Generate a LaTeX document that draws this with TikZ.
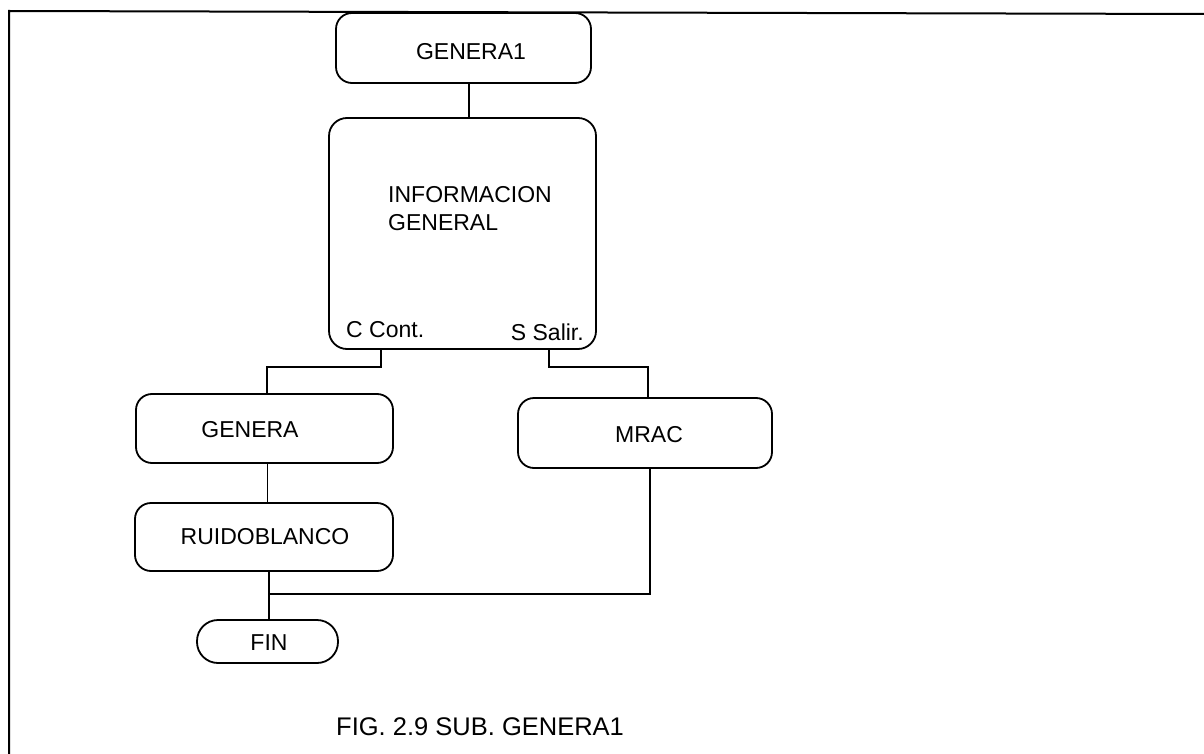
\documentclass[tikz,border=0pt]{standalone}
\usepackage{fontspec}
\setmainfont{Liberation Sans}
\begin{document}
\begin{tikzpicture}[x=1pt,y=-1pt,
  blockbox/.style={draw, line width=1.8pt, rounded corners=16pt, inner sep=0pt},
  lbl/.style={inner sep=0pt, font=\fontsize{23}{28}\selectfont},
  caption/.style={inner sep=0pt, font=\fontsize{25.5}{30}\selectfont},
  wire/.style={line width=1.6pt},
  thinwire/.style={line width=1pt},
  frameline/.style={line width=2pt}]
\useasboundingbox (0,0) rectangle (1204,754);

% page frame (left and top edges)
\coordinate (fBL) at (9,754);
\coordinate (fTL) at (9,11);
\coordinate (fTR) at (1204,14);
\draw[frameline] (fBL) -- (fTL) -- (fTR);

% boxes
\node[blockbox, minimum width=255pt, minimum height=70pt] (g1) at (463.5,48) {};
\node[blockbox, rounded corners=18pt, minimum width=267pt, minimum height=231pt] (info) at (462.5,233.5) {};
\node[blockbox, minimum width=257pt, minimum height=69pt] (genera) at (264.5,428.5) {};
\node[blockbox, minimum width=254pt, minimum height=70pt] (mrac) at (645,433) {};
\node[blockbox, minimum width=258pt, minimum height=68pt] (ruido) at (264,537) {};
\node[blockbox, rounded corners=21pt, minimum width=141pt, minimum height=43pt] (fin) at (267.5,641.5) {};

% labels
\node[lbl] (g1t) at (471,52) {GENERA1};
\node[lbl, anchor=west] (infoA) at (388,195) {INFORMACION};
\node[lbl, anchor=west] (infoB) at (388,223) {GENERAL};
\node[lbl, anchor=west] (cont) at (346,330) {C Cont.};
\node[lbl, anchor=east] (salir) at (584,332) {S Salir.};
\node[lbl] (generat) at (250,430) {GENERA};
\node[lbl] (mract) at (649,435) {MRAC};
\node[lbl] (ruidot) at (265,537) {RUIDOBLANCO};
\node[lbl] (fint) at (269,643) {FIN};
\node[caption, anchor=west] (cap) at (336,727) {FIG. 2.9 SUB. GENERA1};

% connector bends
\coordinate (cT) at (469,100);
\coordinate (cL) at (381,367);
\coordinate (cLd) at (267,367);
\coordinate (cR) at (549,367);
\coordinate (cRd) at (648,367);
\coordinate (cJ) at (269,594);
\coordinate (cM) at (650,594);

% connectors
\draw[wire] (g1.south -| cT) -- (info.north -| cT);
\draw[wire] (info.south -| cL) -- (cL) -- (cLd) -- (genera.north -| cLd);
\draw[wire] (info.south -| cR) -- (cR) -- (cRd) -- (mrac.north -| cRd);
\draw[thinwire] (genera.south -| cLd) -- (ruido.north -| cLd);
\draw[wire] (ruido.south -| cJ) -- (fin.north -| cJ);
\draw[wire] (mrac.south -| cM) -- (cM) -- (cJ);
\end{tikzpicture}
\end{document}
